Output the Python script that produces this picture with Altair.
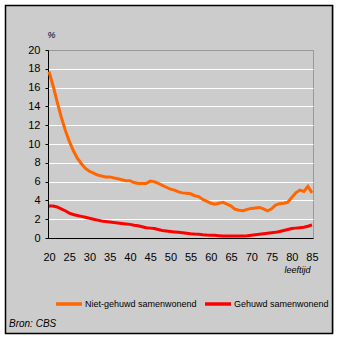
import altair as alt
import pandas as pd

ages = list(range(20, 86))
niet_gehuwd = [17.7, 16.2, 14.5, 12.9, 11.5, 10.3, 9.3, 8.5, 7.9, 7.4,
               7.1, 6.9, 6.7, 6.6, 6.5, 6.5, 6.4, 6.3, 6.2, 6.1,
               6.1, 5.9, 5.8, 5.8, 5.8, 6.05, 6.0, 5.8, 5.6, 5.4,
               5.2, 5.1, 4.9, 4.8, 4.75, 4.7, 4.5, 4.4, 4.1, 3.9,
               3.7, 3.6, 3.7, 3.8, 3.6, 3.4, 3.05, 2.95, 2.9, 3.05,
               3.15, 3.2, 3.25, 3.1, 2.9, 3.1, 3.5, 3.65, 3.7, 3.8,
               4.3, 4.8, 5.1, 4.95, 5.5, 4.8]
gehuwd = [3.4, 3.4, 3.3, 3.1, 2.9, 2.65, 2.5, 2.4, 2.3, 2.2,
          2.1, 2.0, 1.9, 1.8, 1.75, 1.7, 1.65, 1.6, 1.55, 1.5,
          1.45, 1.35, 1.3, 1.2, 1.1, 1.05, 1.0, 0.9, 0.8, 0.75,
          0.7, 0.65, 0.6, 0.55, 0.5, 0.45, 0.42, 0.4, 0.35, 0.32,
          0.3, 0.28, 0.25, 0.22, 0.2, 0.2, 0.2, 0.2, 0.22, 0.25,
          0.3, 0.35, 0.4, 0.45, 0.5, 0.55, 0.6, 0.7, 0.8, 0.9,
          1.0, 1.05, 1.1, 1.15, 1.25, 1.4]
series_names = ["Niet-gehuwd samenwonend", "Gehuwd samenwonend"]
series_colors = ["#FF6600", "#FF0000"]
x_ticks = list(range(20, 86, 5))
y_ticks = list(range(0, 21, 2))

rows = []
for a, v in zip(ages, niet_gehuwd):
    rows.append({"leeftijd": a, "pct": v, "serie": series_names[0]})
for a, v in zip(ages, gehuwd):
    rows.append({"leeftijd": a, "pct": v, "serie": series_names[1]})
df = pd.DataFrame(rows)

FONT = "Liberation Sans"

lines = alt.Chart(df).mark_line(strokeWidth=3, strokeJoin="miter", clip=False).encode(
    x=alt.X("leeftijd:Q",
            scale=alt.Scale(domain=[19.75, 85.25], nice=False, zero=False),
            axis=alt.Axis(values=x_ticks, title="leeftijd", grid=False, ticks=False,
                          domainColor="black", domainWidth=1,
                          labelFont=FONT, labelFontSize=11, labelColor="black",
                          labelPadding=13, labelFlush=False,
                          titleFont=FONT, titleFontSize=9, titleFontStyle="italic",
                          titleFontWeight="normal", titleColor="black",
                          titleX=249, titleY=31, titleAlign="center",
                          titleBaseline="middle")),
    y=alt.Y("pct:Q",
            scale=alt.Scale(domain=[0, 20], nice=False),
            axis=alt.Axis(values=y_ticks, title="%", grid=True,
                          gridColor=alt.condition(alt.datum.value == 20,
                                                  alt.value("#999999"),
                                                  alt.value("white")),
                          gridOpacity=alt.condition(alt.datum.value == 0,
                                                    alt.value(0), alt.value(1)),
                          gridWidth=1,
                          tickSize=3, tickColor="black",
                          domainColor="black", domainWidth=1,
                          labelFont=FONT, labelFontSize=11, labelColor="black",
                          labelPadding=5,
                          titleFont=FONT, titleFontSize=9, titleFontStyle="italic",
                          titleFontWeight="normal", titleColor="black",
                          titleAngle=0, titleX=3, titleY=-16, titleAlign="center",
                          titleBaseline="middle")),
    color=alt.Color("serie:N",
                    scale=alt.Scale(domain=series_names, range=series_colors),
                    sort=series_names,
                    legend=alt.Legend(title=None, orient="none", direction="horizontal",
                                      legendX=6, legendY=239,
                                      symbolType="stroke", symbolSize=676,
                                      symbolStrokeWidth=3.5, labelFont=FONT,
                                      labelFontSize=9, labelColor="black",
                                      labelOffset=1, columnPadding=1, padding=0,
                                      gridAlign="each")),
)

frame_df = pd.DataFrame({"k": [0]})

outer = alt.Chart(frame_df).mark_rect(
    fill="transparent", stroke="white", strokeWidth=5, clip=False
).encode(x=alt.value(-45.5), x2=alt.value(288.5), y=alt.value(-47.5), y2=alt.value(285.5))

border = alt.Chart(frame_df).mark_rect(
    fill="transparent", stroke="black", strokeWidth=1.5, clip=False
).encode(x=alt.value(-42.5), x2=alt.value(284.5), y=alt.value(-44.5), y2=alt.value(283.5))

bron = alt.Chart(pd.DataFrame({"t": ["Bron: CBS"]})).mark_text(
    font=FONT, fontSize=10, fontStyle="italic", align="left", baseline="middle",
    color="black", clip=False
).encode(x=alt.value(-39), y=alt.value(274), text="t:N")

chart = alt.layer(lines, bron, outer, border).properties(
    width=265, height=188, autosize="none",
    padding={"left": 48, "top": 50, "right": 26, "bottom": 100},
    background="#cccccc",
).configure_view(stroke="#999999", strokeWidth=1, fill="#cccccc")

chart.save("out.html", embed_options={"renderer": "svg", "actions": False})
